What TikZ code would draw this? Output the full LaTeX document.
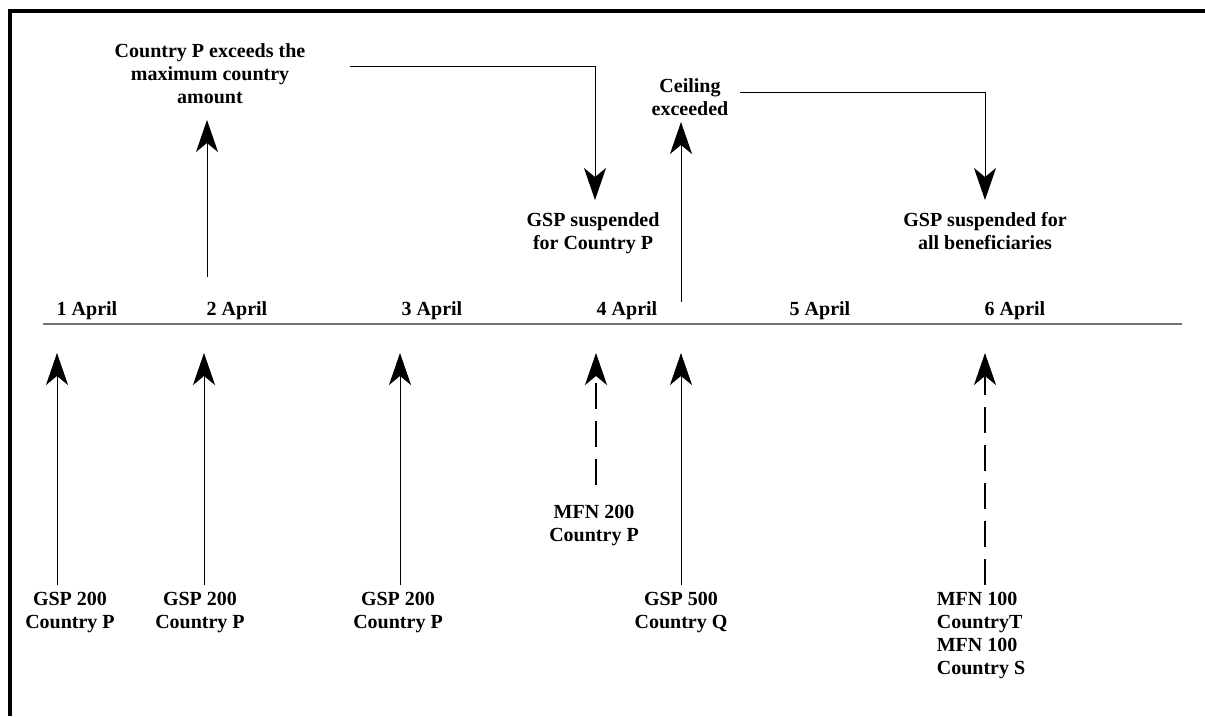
\documentclass[tikz,border=0pt]{standalone}
\usepackage{fontspec}
\setmainfont{Liberation Serif}
\usetikzlibrary{positioning,arrows.meta}

\begin{document}
\begin{tikzpicture}[x=1pt, y=-1pt,
                note/.style={font=\fontsize{20}{23}\selectfont\bfseries, align=center, inner sep=0pt, anchor=north},
                day/.style={font=\fontsize{20}{23}\selectfont\bfseries, inner sep=0pt, anchor=base},
                pointer/.style={draw=black, line width=1pt, -{Stealth[length=32pt, width=22pt, inset=9pt]}},
                mfnline/.style={pointer, line width=1.8pt, dash pattern=on 26pt off 12pt},
                axis/.style={draw=black!55, line width=1.3pt},
                frame/.style={draw=black, line width=4pt}
            ]
            \useasboundingbox (0,0) rectangle (1205,716);
            \draw[frame] (10,716) -- (10,11) -- (1205,11);

            \coordinate (AxisW) at (43,324);
            \coordinate (AxisE) at (1182,324);
            \draw[axis] (AxisW) -- (AxisE);
            \foreach \x/\d in {87/1,237/2,432/3,627/4,820/5,1015/6}
                \node (Date\d) [day] at (\x,315) {\d\ April};

            \node (Exceed) [note] at (210,43) {Country P exceeds the\\maximum country\\amount};
            \node (SuspP) [note] at (593,212) {GSP suspended\\for Country P};
            \node (Ceiling) [note] at (690,78) {Ceiling\\exceeded};
            \node (SuspAll) [note] at (985,212) {GSP suspended for\\all beneficiaries};

            \coordinate (Rise01) at (207,277);
            \coordinate (Rise01tip) at (207,120);
            \coordinate (Rise02) at (681,302);
            \coordinate (Rise02tip) at (681,122);
            \coordinate (Link01) at (350,66);
            \coordinate (Link01bend) at (595,66);
            \coordinate (Link01tip) at (595,200);
            \coordinate (Link02) at (740,92);
            \coordinate (Link02bend) at (985,92);
            \coordinate (Link02tip) at (985,200);
            \draw[pointer] (Rise01) -- (Rise01tip);
            \draw[pointer] (Rise02) -- (Rise02tip);
            \draw[pointer] (Link01) -- (Link01bend) -- (Link01tip);
            \draw[pointer] (Link02) -- (Link02bend) -- (Link02tip);

            \node (Ship01) [note] at (70,592) {GSP 200\\Country P};
            \node (Ship02) [note] at (200,592) {GSP 200\\Country P};
            \node (Ship03) [note] at (398,592) {GSP 200\\Country P};
            \node (Ship04) [note] at (594,505) {MFN 200\\Country P};
            \node (Ship05) [note] at (681,592) {GSP 500\\Country Q};
            \node (Ship06) [note, align=left] at (981,592) {MFN 100\\CountryT\\MFN 100\\Country S};

            \foreach \x/\n in {57/01,204/02,400/03,681/05}
                \draw[pointer] (\x,585) coordinate (Foot\n) -- (\x,353) coordinate (Head\n);
            \coordinate (Foot04) at (596,485);
            \coordinate (Head04) at (596,353);
            \coordinate (Foot06) at (985,585);
            \coordinate (Head06) at (985,353);
            \draw[mfnline] (Foot04) -- (Head04);
            \draw[mfnline] (Foot06) -- (Head06);
\end{tikzpicture}
\end{document}
